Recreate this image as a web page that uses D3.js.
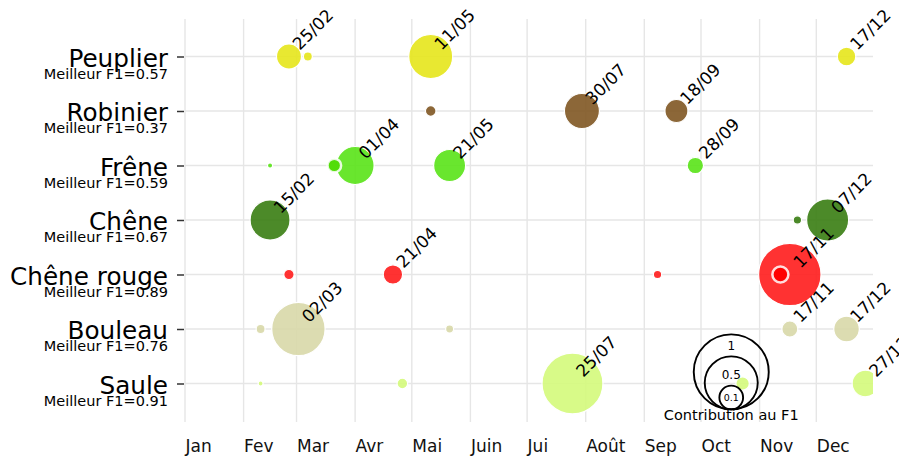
<!DOCTYPE html>
<html><head><meta charset="utf-8">
<script src="https://cdn.jsdelivr.net/npm/d3@7"></script>
<style>
body{margin:0;background:#fff;}
text{font-family:"DejaVu Sans",sans-serif;}
</style></head>
<body><svg id="chart" width="899" height="459"></svg>
<script>
const monthLabels = ["Jan","Fev","Mar","Avr","Mai","Juin","Jui","Août","Sep","Oct","Nov","Dec"];
const species = ["Peuplier","Robinier","Frêne","Chêne","Chêne rouge","Bouleau","Saule"];
const bestF1 = [0.57,0.37,0.59,0.67,0.89,0.76,0.91];

const ptSpecies = ["Peuplier","Peuplier","Peuplier","Peuplier",
  "Robinier","Robinier","Robinier",
  "Frêne","Frêne","Frêne","Frêne","Frêne",
  "Chêne","Chêne","Chêne",
  "Chêne rouge","Chêne rouge","Chêne rouge","Chêne rouge","Chêne rouge",
  "Bouleau","Bouleau","Bouleau","Bouleau","Bouleau",
  "Saule","Saule","Saule","Saule","Saule"];
const ptDates = ["02-25","03-07","05-11","12-17",
  "05-11","07-30","09-18",
  "02-15","03-21","04-01","05-21","09-28",
  "02-15","11-21","12-07",
  "02-25","04-21","09-08","11-17","11-12",
  "02-10","03-02","05-21","11-17","12-17",
  "02-10","04-26","07-25","10-23","12-27"];
const ptValues = [0.111,0.0144,0.344,0.0615,
  0.020,0.218,0.094,
  0.0048,0.033,0.257,0.182,0.048,
  0.284,0.0125,0.314,
  0.019,0.067,0.0125,0.692,0.0455,
  0.0144,0.507,0.0114,0.0455,0.1165,
  0.0044,0.020,0.66,0.032,0.126];
const ptLabeled = [1,0,1,1, 0,1,1, 0,0,1,1,1, 1,0,1, 0,1,0,1,0, 0,1,0,1,1, 0,0,1,0,1];
const ptHighlight = [0,0,0,0, 0,0,0, 0,1,0,0,0, 0,0,0, 0,0,0,0,1, 0,0,0,0,0, 0,0,0,0,0];

const legendValues = [1, 0.5, 0.1];
const legendLabels = ["1", "0.5", "0.1"];
const legendTitle = "Contribution au F1";
const legendDate = "10-17";
const year = 2021;

// styles
const speciesColor = {"Peuplier":"#e5e51b","Robinier":"#7f5722","Frêne":"#59e317","Chêne":"#397d12",
  "Chêne rouge":"#ff1c1c","Bouleau":"#d8d8a9","Saule":"#d4fa7b"};
const highlightColor = {"Frêne":"#52dd08","Chêne rouge":"#ff0000"};

(function(){
const svg = d3.select("#chart");
const pL = 185, pR = 873, pT = 19, pB = 422;
const parse = d3.timeParse("%Y-%m-%d");
const toDate = s => parse(year + "-" + s);

const x = d3.scaleTime().domain([new Date(year,0,1), new Date(year,11,31)]).range([pL, pR]);
const y = d3.scalePoint().domain(species).range([56.5, 383.5]);
const r = d3.scaleSqrt().domain([0,1]).range([0,37.5]);

const monthStarts = d3.range(12).map(m => new Date(year, m, 1));

// grid
const grid = svg.append("g");
grid.selectAll("line.h").data(species).join("line")
  .attr("x1", pL).attr("x2", pR).attr("y1", d=>y(d)).attr("y2", d=>y(d))
  .attr("stroke","#e6e6e6").attr("stroke-width",1.4);
grid.selectAll("line.v").data(monthStarts).join("line")
  .attr("x1", d=>x(d)).attr("x2", d=>x(d)).attr("y1", pT).attr("y2", pB)
  .attr("stroke","#e6e6e6").attr("stroke-width",1.4);

// x axis
const xAxis = d3.axisBottom(x).tickValues(monthStarts).tickSize(0)
  .tickFormat((d,i)=>monthLabels[i]);
const gx = svg.append("g").attr("transform",`translate(0,${pB})`).call(xAxis);
gx.select(".domain").remove();
gx.selectAll("text").attr("text-anchor","start").attr("dy",null).attr("y",29.5)
  .attr("font-size",17).attr("fill","#111").attr("font-family","DejaVu Sans");

// y axis
const yAxis = d3.axisLeft(y).tickSize(7).tickPadding(0).tickFormat("");
const gy = svg.append("g").attr("transform",`translate(${pL-1},0)`).call(yAxis);
gy.select(".domain").remove();
gy.selectAll(".tick line").attr("stroke","#333").attr("stroke-width",1.5);
gy.selectAll(".tick").each(function(d){
  const i = species.indexOf(d);
  const g = d3.select(this);
  g.append("text").attr("x",-16).attr("y",9.5).attr("text-anchor","end")
    .attr("font-size",24.7).attr("fill","#000").attr("font-family","DejaVu Sans").text(d);
  g.append("text").attr("x",-16).attr("y",21.8).attr("text-anchor","end")
    .attr("font-size",14.5).attr("fill","#000").attr("font-family","DejaVu Sans")
    .text("Meilleur F1=" + bestF1[i].toFixed(2));
});

// points
const pts = ptSpecies.map((s,i)=>({s, date: toDate(ptDates[i]), v: ptValues[i], lab: ptLabeled[i], hl: ptHighlight[i]}));
svg.append("clipPath").attr("id","panel").append("rect")
  .attr("x",pL).attr("y",pT).attr("width",pR-pL).attr("height",pB-pT);
const gp = svg.append("g").attr("clip-path","url(#panel)");
gp.selectAll("circle.n").data(pts.filter(p=>!p.hl)).join("circle")
  .attr("cx",p=>x(p.date)).attr("cy",p=>y(p.s)).attr("r",p=>r(p.v))
  .attr("fill",p=>speciesColor[p.s]).attr("fill-opacity",0.9)
  .attr("stroke","#fff").attr("stroke-width",1.2);
gp.selectAll("circle.h").data(pts.filter(p=>p.hl)).join("circle")
  .attr("cx",p=>x(p.date)).attr("cy",p=>y(p.s)).attr("r",p=>r(p.v))
  .attr("fill",p=>highlightColor[p.s])
  .attr("stroke","#fff").attr("stroke-opacity",0.85).attr("stroke-width",2.5);

// labels
const fmt = d3.timeFormat("%d/%m");
svg.append("g").selectAll("text").data(pts.filter(p=>p.lab)).join("text")
  .attr("transform",p=>`translate(${x(p.date)+10.7},${y(p.s)-5.5}) rotate(-45)`)
  .attr("font-size",17).attr("fill","#000").attr("font-family","DejaVu Sans")
  .text(p=>fmt(p.date));

// size legend
const step = y.step();
const lx = x(toDate(legendDate));
const lb = y("Saule") + step*0.475;
const lg = svg.append("g");
lg.selectAll("circle").data(legendValues).join("circle")
  .attr("cx",lx).attr("cy",v=>lb - r(v)).attr("r",v=>r(v))
  .attr("fill","none").attr("stroke","#000").attr("stroke-width",1.9);
const labelY = legendValues.map((v,i)=>{
  const topI = lb - 2*r(v);
  if (i < legendValues.length-1) { const topN = lb - 2*r(legendValues[i+1]); return (topI+topN)/2 + 5 + i*2.5; }
  return lb - r(v) + 3;
});
lg.selectAll("text.l").data(legendLabels).join("text")
  .attr("x",lx).attr("y",(d,i)=>labelY[i]).attr("text-anchor","middle")
  .attr("font-size",(d,i)=> i===2 ? 9.5 : 12).attr("fill","#000").attr("font-family","DejaVu Sans")
  .text(d=>d);
lg.append("text").attr("x",lx).attr("y",lb+11).attr("text-anchor","middle")
  .attr("font-size",14.5).attr("fill","#000").attr("font-family","DejaVu Sans").text(legendTitle);
})();
</script></body></html>
